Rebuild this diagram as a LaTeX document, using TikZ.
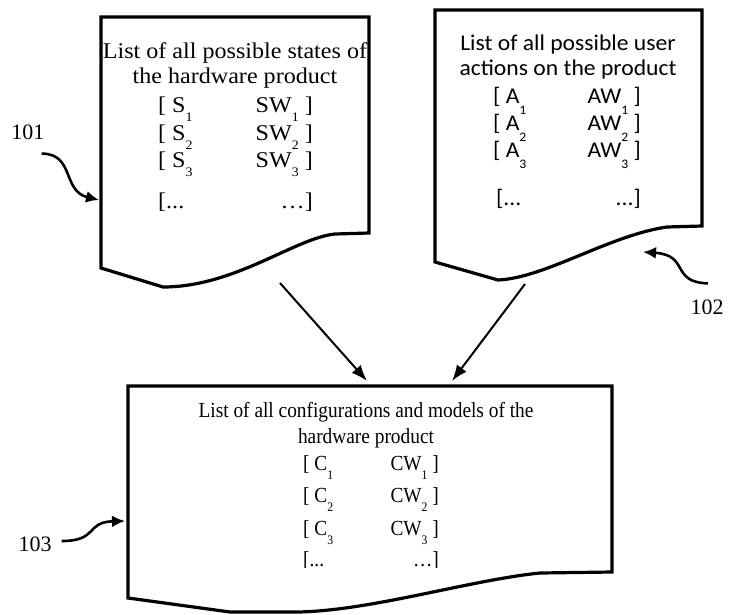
\documentclass[tikz,border=0pt]{standalone}
\usepackage{fontspec}
\setmainfont{Liberation Serif}
\newfontfamily\statesfont[FakeStretch=1.07]{Liberation Serif}
\newfontfamily\actionsfont[FakeStretch=1.05]{Carlito}
\newfontfamily\configfont[FakeStretch=0.9]{Liberation Serif}
\usetikzlibrary{arrows.meta}

% index written well below the line, as in the lists
\newcommand{\lowsub}[2][9pt]{\smash{\raisebox{-#1}{\fontsize{13}{13}\selectfont #2}}}

\tikzset{
  doc/.style={line width=3.2pt},
  flow/.style={line width=2pt, -{Latex[length=16pt,width=12pt]}},
  callout/.style={line width=2.6pt, -{Latex[length=13pt,width=12pt]}},
  refnum/.style={inner sep=0pt, font=\fontsize{22}{22}\selectfont},
  rowtext/.style={inner sep=0pt},
}

\begin{document}
\begin{tikzpicture}[x=1pt, y=-1pt]
\useasboundingbox (0,0) rectangle (739,614);

% 101: states of the product
\draw[doc] (101,17) -- (369,17) -- (369,233) -- (335,234)
  .. controls (295,238) and (235,287) .. (163,287) -- (101,268) -- cycle;
\begin{scope}[font=\statesfont\fontsize{22.5}{25}\selectfont]
  \node[anchor=base, inner sep=0pt] (states) at (235,58)
    {\begin{tabular}[t]{@{}c@{}}List of all possible states of\\the hardware product\end{tabular}};
  \foreach \i/\y in {1/112, 2/140, 3/167} {
    \node[rowtext, anchor=base west] (s\i) at (158,\y) {[ S\lowsub{\i}};
    \node[rowtext, anchor=base east] (sw\i) at (313,\y) {SW\lowsub{\i}\ ]};
  }
  \node[rowtext, anchor=base west] (sdots) at (158,208) {[...};
  \node[rowtext, anchor=base east] (swdots) at (313,208) {…]};
\end{scope}

% 102: user actions
\draw[doc] (435,10) -- (702,10) -- (702,226) -- (667,227)
  .. controls (610,235) and (545,278) .. (498,280) -- (435,262) -- cycle;
\begin{scope}[font=\actionsfont\fontsize{22.5}{25}\selectfont]
  \node[anchor=base, inner sep=0pt] (actions) at (568,50)
    {\begin{tabular}[t]{@{}c@{}}List of all possible user\\actions on the product\end{tabular}};
  \foreach \i/\y in {1/103, 2/130, 3/157} {
    \node[rowtext, anchor=base west] (a\i) at (493,\y) {[ A\lowsub[11pt]{\i}};
    \node[rowtext, anchor=base east] (aw\i) at (641,\y) {AW\lowsub[11pt]{\i}\ ]};
  }
  \node[rowtext, anchor=base west] (adots) at (496,205) {[...};
  \node[rowtext, anchor=base east] (awdots) at (641,205) {...]};
\end{scope}

% 103: configurations and models
\draw[doc] (128,386) -- (612,386) -- (612,572) -- (540,573)
  .. controls (470,580) and (370,611) .. (297,612) -- (230,612) -- (128,598) -- cycle;
\begin{scope}[font=\configfont\fontsize{21.5}{26}\selectfont]
  \node[anchor=base, inner sep=0pt] (configs) at (366,417)
    {\begin{tabular}[t]{@{}c@{}}List of all configurations and models of the\\hardware product\end{tabular}};
  \clip (128,386) rectangle (612,567);
  \foreach \i/\y in {1/470, 2/502, 3/535} {
    \node[rowtext, anchor=base west] (c\i) at (303,\y) {[ C\lowsub{\i}};
    \node[rowtext, anchor=base east] (cw\i) at (439,\y) {CW\lowsub{\i}\ ]};
  }
  \node[rowtext, anchor=base west] (cdots) at (303,566) {[...};
  \node[rowtext, anchor=base east] (cwdots) at (439,566) {…]};
\end{scope}

% both lists feed the configuration list
\coordinate (statesout) at (280,283);
\coordinate (actionsout) at (525,284);
\coordinate (configsin) at (367,381);
\coordinate (configsinb) at (452,381);
\draw[flow] (statesout) -- (configsin);
\draw[flow] (actionsout) -- (configsinb);

% reference numerals
\node[refnum] (n101) at (28,132) {101};
\node[refnum] (n102) at (707,307) {102};
\node[refnum] (n103) at (35,544) {103};
\coordinate (tip101) at (99,200);
\coordinate (tip102) at (643,252);
\coordinate (tip103) at (125,521);
\draw[callout] ([shift={(-3,14)}]n101.south east) .. controls +(33,0) and +(-37,-9) .. (tip101);
\draw[callout] ([shift={(1,-16)}]n102.north) .. controls +(-38,-1) and +(47,3) .. (tip102);
\draw[callout] ([shift={(10,-3)}]n103.east) .. controls +(37,0) and +(-40,1) .. (tip103);
\end{tikzpicture}
\end{document}
